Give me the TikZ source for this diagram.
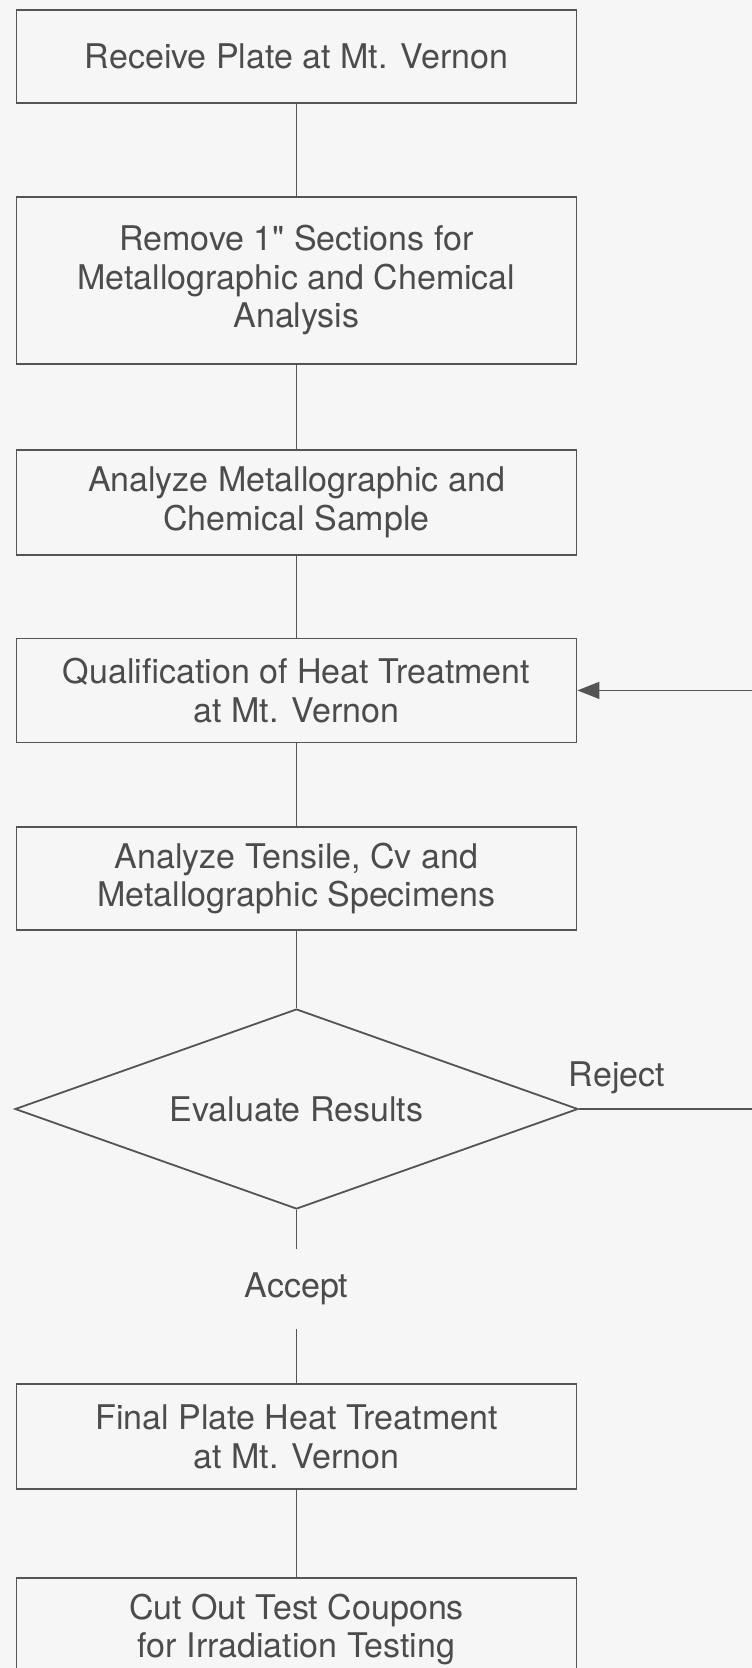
\documentclass[tikz,border=0pt]{standalone}
\usepackage{fontspec}
\setmainfont{TeX Gyre Heros}[Ligatures=TeXOff]
\usetikzlibrary{positioning,shapes.geometric,arrows.meta}
\definecolor{scanink}{gray}{0.33}
\definecolor{scantext}{gray}{0.30}
\definecolor{scanpaper}{gray}{0.965}

\begin{document}
\begin{tikzpicture}[x=1pt,y=-1pt,
    stepbox/.style={draw=scanink,line width=1.8pt,minimum width=560pt,inner sep=0pt,align=center,text=scantext,font=\fontsize{34}{38.5}\selectfont},
    testbox/.style={diamond,draw=scanink,line width=1.8pt,aspect=2.8,minimum width=563pt,minimum height=200pt,inner sep=0pt,text=scantext,font=\fontsize{34}{38.5}\selectfont},
    tag/.style={inner sep=0pt,text=scantext,font=\fontsize{34}{38.5}\selectfont},
    link/.style={draw=scanink,line width=1.6pt},
    back/.style={link,-{Triangle[length=22pt,width=17pt]}}]
  \fill[scanpaper] (0,0) rectangle (752,1668);
  \useasboundingbox (0,0) rectangle (752,1668);

  \node[stepbox,minimum height=93pt] (receive) at (296.5,56.5) {Receive Plate at Mt. Vernon};
  \node[stepbox,minimum height=167pt,below=92pt of receive] (remove) {Remove 1" Sections for\\Metallographic and Chemical\\Analysis};
  \node[stepbox,minimum height=105pt,below=84pt of remove] (sample) {Analyze Metallographic and\\Chemical Sample};
  \node[stepbox,minimum height=104pt,below=82pt of sample] (qualify) {Qualification of Heat Treatment\\at Mt. Vernon};
  \node[stepbox,minimum height=103pt,below=83pt of qualify] (specimens) {Analyze Tensile, Cv and\\Metallographic Specimens};
  \node[testbox,below=77pt of specimens] (judge) {Evaluate Results};
  \node[tag,minimum height=80pt,below=39pt of judge] (accept) {Accept};
  \node[stepbox,minimum height=105pt,below=54pt of accept] (final) {Final Plate Heat Treatment\\at Mt. Vernon};
  \node[stepbox,minimum height=103pt,below=87pt of final] (coupons) {Cut Out Test Coupons\\for Irradiation Testing};

  \coordinate (edge) at (752,0);
  \coordinate (rejectend) at (judge.east -| edge);
  \coordinate (returnend) at (qualify.east -| edge);

  \draw[link] (receive) -- (remove);
  \draw[link] (remove) -- (sample);
  \draw[link] (sample) -- (qualify);
  \draw[link] (qualify) -- (specimens);
  \draw[link] (specimens) -- (judge);
  \draw[link] (judge) -- (accept);
  \draw[link] (accept) -- (final);
  \draw[link] (final) -- (coupons);
  \draw[link] (judge.east) -- node[tag,above,pos=0.22,yshift=14pt] {Reject} (rejectend);
  \draw[back] (returnend) -- (qualify.east);
\end{tikzpicture}
\end{document}
